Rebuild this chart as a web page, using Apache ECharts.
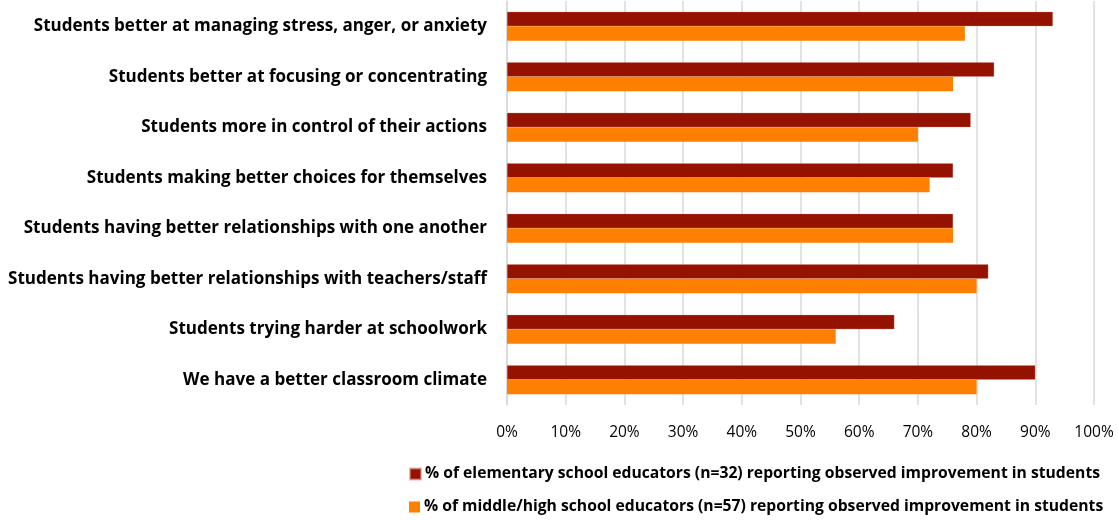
<!DOCTYPE html>
<html>
<head>
<meta charset="utf-8">
<script src="https://cdn.jsdelivr.net/npm/echarts@6/dist/echarts.min.js"></script>
<style>
  html, body { margin: 0; padding: 0; background: #fff; }
  #chart { width: 1118px; height: 521px; }
</style>
</head>
<body>
<div id="chart"></div>
<script>
const categories = [
  'Students better at managing stress, anger, or anxiety',
  'Students better at focusing or concentrating',
  'Students more in control of their actions',
  'Students making better choices for themselves',
  'Students having better relationships with one another',
  'Students having better relationships with teachers/staff',
  'Students trying harder at schoolwork',
  'We have a better classroom climate'
];
const elementary = [93, 83, 79, 76, 76, 82, 66, 90];
const middleHigh = [78, 76, 70, 72, 76, 80, 56, 80];
const seriesNames = [
  '% of elementary school educators (n=32) reporting observed improvement in students',
  '% of middle/high school educators (n=57) reporting observed improvement in students'
];

const chart = echarts.init(document.getElementById('chart'));
const font = '"Open Sans", sans-serif';

// one legend per row so they stack like the original
const legendBase = {
  left: 409,
  padding: 0,
  itemWidth: 11,
  itemHeight: 11,
  icon: 'rect',
  textStyle: { fontFamily: font, fontWeight: 'bold', fontSize: 15.7, color: '#000', padding: [0, 0, 0, -1] }
};

chart.setOption({
  animation: false,
  textStyle: { fontFamily: font },
  grid: { left: 507, right: 24, top: 1, bottom: 116 },
  legend: [
    Object.assign({}, legendBase, { top: 466, data: [seriesNames[0]] }),
    Object.assign({}, legendBase, { top: 499, data: [seriesNames[1]] })
  ],
  xAxis: {
    type: 'value',
    min: 0,
    max: 100,
    interval: 10,
    axisLine: { show: false },
    axisTick: { show: false },
    axisLabel: { formatter: '{value}%', color: '#000', fontSize: 15.5, margin: 20, fontFamily: font },
    splitLine: { lineStyle: { color: '#d9d9d9', width: 1.5 } }
  },
  yAxis: {
    type: 'category',
    inverse: true,
    data: categories,
    axisLine: { lineStyle: { color: '#d9d9d9', width: 1.5 } },
    axisTick: { show: false },
    axisLabel: { color: '#000', fontWeight: 'bold', fontSize: 17.05, margin: 20, fontFamily: font, padding: [3, 0, 0, 0] }
  },
  series: [
    {
      name: seriesNames[0],
      type: 'bar',
      data: elementary,
      barWidth: 14.5,
      barGap: '0%',
      itemStyle: { color: '#961200', borderColor: 'rgba(220,140,130,0.6)', borderWidth: 0.5 }
    },
    {
      name: seriesNames[1],
      type: 'bar',
      data: middleHigh,
      barWidth: 14.5,
      barGap: '0%',
      itemStyle: { color: '#ff7f00' }
    }
  ]
});
</script>
</body>
</html>
